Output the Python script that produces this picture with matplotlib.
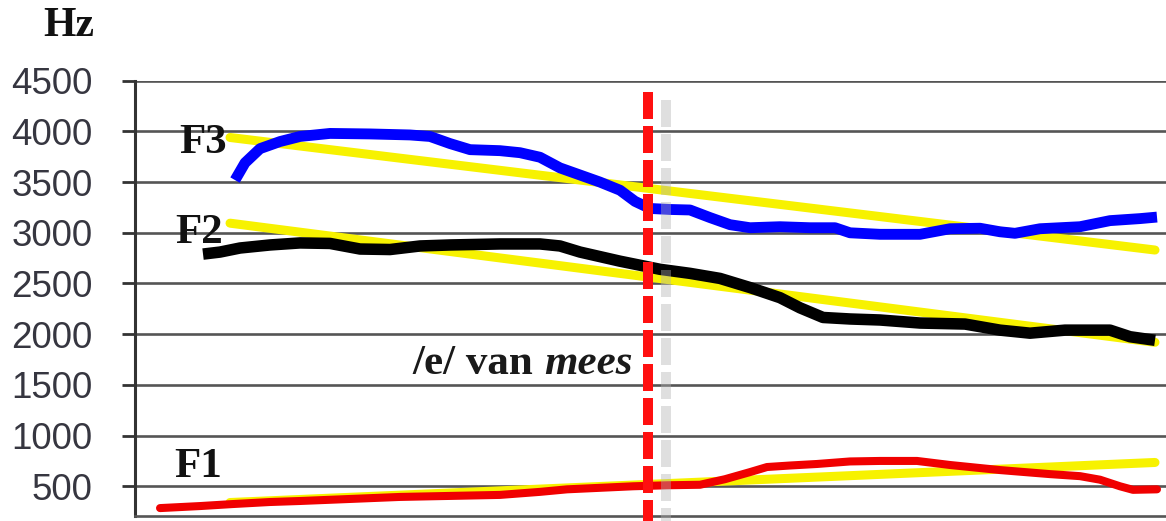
import matplotlib.pyplot as plt
from matplotlib import patheffects

# time axis in ms (no labels shown on the original), formants in Hz
f3_t = [20, 22, 25, 29, 33, 39, 47, 55, 59, 63, 67, 73, 77, 81, 85, 89, 93, 97, 100,
        103, 107, 111, 115, 119, 123, 129, 135, 140, 143, 149, 157, 163, 169, 173, 176,
        181, 189, 195, 201, 204.4]
f3_hz = [3520, 3690, 3830, 3900, 3950, 3980, 3975, 3965, 3950, 3880, 3820, 3810, 3790,
         3745, 3640, 3570, 3500, 3420, 3310, 3240, 3230, 3225, 3150, 3080, 3050, 3060,
         3050, 3050, 3000, 2985, 2985, 3040, 3045, 3010, 2995, 3040, 3060, 3120, 3140, 3155]

f2_t = [13.6, 17, 21, 27, 33, 39, 45, 51, 57, 63, 73, 81, 85, 89, 93, 97, 102, 105, 111,
        117, 123, 129, 133, 137.6, 143, 149, 157, 166, 173, 179, 186, 195, 199, 204]
f2_hz = [2790, 2810, 2850, 2880, 2900, 2895, 2840, 2835, 2870, 2880, 2890, 2890, 2870,
         2810, 2765, 2720, 2670, 2640, 2600, 2550, 2460, 2360, 2260, 2165, 2150, 2140,
         2110, 2100, 2040, 2010, 2040, 2040, 1975, 1940]

f1_t = [5, 13, 19.6, 27, 33, 43, 53, 63, 73, 81, 86.4, 93, 99.6, 106.4, 113, 118, 123,
        126.4, 131, 136.4, 143, 149, 156.4, 163, 169, 173, 183, 189, 193, 197, 199.6, 204.4]
f1_hz = [285, 305, 325, 345, 355, 375, 395, 405, 415, 445, 470, 485, 500, 510, 515, 570,
         640, 690, 705, 720, 745, 750, 750, 710, 680, 660, 620, 600, 565, 500, 465, 470]

# linear trend lines (start / end)
trend_t = [19, 204]
f3_trend = [3940, 2830]
f2_trend = [3095, 1920]
f1_trend = [340, 735]

boundary_t = 102.6
boundary_hz = [4390, 0]
yticks = [500, 1000, 1500, 2000, 2500, 3000, 3500, 4000, 4500]

fig = plt.figure(figsize=(11.66, 5.21), dpi=100)
ax = fig.add_axes([0.1158, 0.0096, 0.8842, 0.8355])

ax.set_xlim(0, 206.2)
ax.set_ylim(207, 4500)
ax.set_yticks(yticks)
ax.set_xticks([])
ax.grid(axis="y", color="#555555", linewidth=1.9)
ax.set_axisbelow(True)

for side in ["top", "right"]:
    ax.spines[side].set_visible(False)
ax.spines["left"].set_color("#333333")
ax.spines["left"].set_linewidth(2.2)
ax.spines["bottom"].set_color("#555555")
ax.spines["bottom"].set_linewidth(1.9)

ax.tick_params(axis="y", length=9.5, width=2.0, color="#333333", pad=21,
               labelsize=26.5, labelcolor="#363640")
for lab in ax.get_yticklabels():
    lab.set_family("Liberation Sans")

yellow = "#f7f200"
for trend in [f3_trend, f2_trend, f1_trend]:
    ax.plot(trend_t, trend, color=yellow, lw=6.5, solid_capstyle="round", zorder=2)

ax.plot(f3_t, f3_hz, color="#0000ff", lw=7.8, solid_capstyle="butt",
        solid_joinstyle="round", zorder=3)
ax.plot(f2_t, f2_hz, color="#000000", lw=8.3, solid_capstyle="butt",
        solid_joinstyle="round", zorder=3)
ax.plot(f1_t, f1_hz, color="#f00000", lw=5.8, solid_capstyle="round",
        solid_joinstyle="round", zorder=3)

ax.plot([boundary_t, boundary_t], boundary_hz, color="#ff1010", lw=7.2,
        dashes=(2.7, 0.7), clip_on=False, zorder=4,
        path_effects=[patheffects.SimpleLineShadow(offset=(13, -6), shadow_color="#b0b0b0",
                                                   alpha=0.4),
                      patheffects.Normal()])

serif = "Liberation Serif"
ax.text(13.6, 3886, "F3", family=serif, weight="bold", fontsize=31,
        ha="center", va="center", color="#111111", zorder=5)
ax.text(12.8, 2998, "F2", family=serif, weight="bold", fontsize=31,
        ha="center", va="center", color="#111111", zorder=5)
ax.text(12.6, 690, "F1", family=serif, weight="bold", fontsize=31,
        ha="center", va="center", color="#111111", zorder=5)

mees = ax.text(99.6, 1706, "mees", family=serif, weight="bold", style="italic",
               fontsize=31, ha="right", va="center", color="#1a1a1a", zorder=5)
ax.annotate("/e/ van", xy=(0, 0), xycoords=mees, xytext=(-8, 0),
            textcoords="offset points", family=serif, weight="bold", fontsize=31,
            ha="right", va="bottom", color="#1a1a1a", zorder=5)

fig.text(0.059, 0.950, "Hz", family=serif, weight="bold", fontsize=30,
         ha="center", va="center", color="#111111")

fig.savefig("out.png", dpi=100)
